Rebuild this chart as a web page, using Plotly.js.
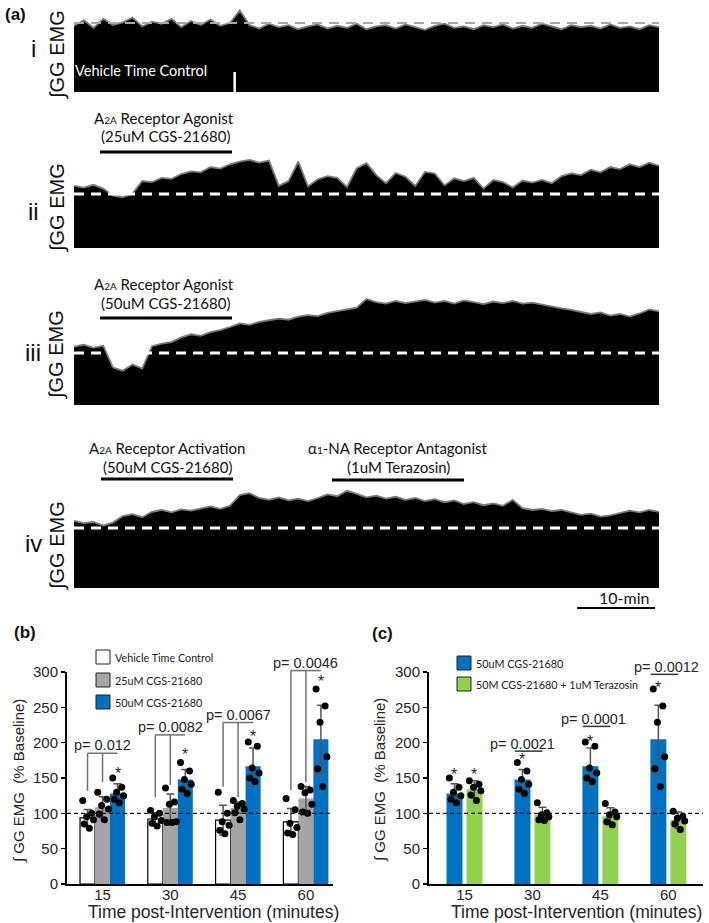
<!DOCTYPE html>
<html><head><meta charset="utf-8">
<script src="https://cdn.plot.ly/plotly-3.0.1.min.js"></script>
<style>html,body{margin:0;padding:0;background:#fff;}#chart{width:709px;height:923px;}</style>
</head><body><div id="chart"></div>
<script>
// ---------------- DATA ----------------
const recordMinutes = 75;
const emgI   = [96,104,93,106,97,101,108,95,102,99,106,94,103,97,105,96,100,118,97,92,99,94,97,91,95,98,92,96,93,99,91,95,97,92,98,94,90,96,99,93,95,91,97,94,98,92,96,93,99,95,91,97,94,96,92,98,93,95,91,97,94];
const emgII  = [115,112,117,110,97,94,101,124,122,130,128,137,142,140,150,147,155,160,163,158,162,115,124,160,114,127,133,130,113,148,157,135,120,139,132,115,141,138,116,129,124,130,110,126,122,112,125,121,126,120,133,138,135,145,140,150,146,155,150,158,152];
const emgIII = [112,116,110,114,72,66,78,70,113,118,121,130,136,133,140,144,150,157,154,160,163,166,164,170,173,171,177,180,184,187,204,198,195,200,196,199,202,197,200,195,201,198,194,199,196,200,195,197,193,190,186,183,179,175,178,172,175,170,176,184,180];
const emgIV  = [112,108,110,104,109,120,123,118,127,130,126,131,129,133,136,132,137,155,158,150,147,151,146,149,145,150,156,153,162,157,151,154,149,152,147,150,145,148,143,146,140,143,138,141,137,147,133,130,132,128,130,126,122,124,119,121,125,129,126,130,127];
const dropoutMin = [20.6];      // signal dropout in trace i
const dropoutDepth = [29];
const scaleBarMin = 10;

// Bar charts
const timeCats = ['15','30','45','60'];
const vehMean  = [93.5, 92, 90.5, 88];
const vehSD    = [12, 9, 21, 19];
const cgs25Mean = [108.5, 107.5, 108, 121];
const cgs25SD   = [15, 20, 8, 17];
const cgs50Mean = [128, 148, 166.5, 205];
const cgs50SD   = [14, 14, 26, 48];
const teraMean  = [134, 98.5, 96, 90.5];
const teraSD    = [12, 10, 12, 11.5];

const vehPts   = [[118,100,95,91,85,79],[104,100,95,90,86,82],[130,100,88,83,76,71],[121,105,86,80,72,70]];
const cgs25Pts = [[130,120,111,106,99,91],[136,116,113,88,87,87],[118,114,110,106,101,91],[138,133,129,113,102,100]];
const cgs50Pts = [[150,137,130,125,120,115],[172,160,148,141,134,128],[201,195,164,157,150,145],[276,252,229,180,163,138]];
const teraPts  = [[146,141,137,132,126,118],[115,101,98,95,91,90],[114,102,98,95,88,84],[103,96,93,89,85,77]];

const pValsB = ['0.012','0.0082','0.0067','0.0046'];
const pValsC = ['0.0021','0.0001','0.0012'];   // at 30, 45, 60 min

// ---------------- LAYOUT HELPERS ----------------
const W = 709, H = 923;
const fx = px => px / W;
const fy = py => 1 - py / H;
const ARIAL = 'Liberation Sans, Arial, sans-serif';
const CAL = 'Lato, Open Sans, sans-serif';
const TXT = '#262626';

const traces = [];
const shapes = [];
const annotations = [];
const layout = {
  width: W, height: H, margin: {l:0, r:0, t:0, b:0},
  paper_bgcolor: '#fff', plot_bgcolor: 'rgba(0,0,0,0)',
  showlegend: false, barmode: 'overlay',
  font: {family: ARIAL, color: TXT}
};
function ann(text, px, py, o) {
  o = o || {};
  return Object.assign({xref:'paper', yref:'paper', x: fx(px), y: fy(py), text: text,
    showarrow: false, xanchor: 'center', yanchor: 'middle',
    font: {family: ARIAL, size: 14, color: TXT}}, o);
}

// ---------------- PANEL (a) ----------------
const emgSets = [emgI, emgII, emgIII, emgIV];
const emgGeom = [
  {bottom: 92,  base: 23,  top: 6},
  {bottom: 248, base: 194, top: 140},
  {bottom: 405, base: 353, top: 285},
  {bottom: 588, base: 528, top: 470}
];
const emgX0 = 74, emgX1 = 659;
emgSets.forEach((vals, k) => {
  const g = emgGeom[k];
  const ax = k === 0 ? '' : String(k + 1);
  const t = vals.map((_, i) => i * recordMinutes / (vals.length - 1));
  traces.push({type:'scatter', mode:'lines', x: t, y: vals, xaxis:'x'+ax, yaxis:'y'+ax,
    fill:'tozeroy', fillcolor:'#000', line:{color:'#7a7a7a', width:1.8}, hoverinfo:'skip'});
  layout['xaxis'+ax] = {domain:[fx(emgX0), fx(emgX1)], range:[0, recordMinutes], visible:false, fixedrange:true};
  layout['yaxis'+ax] = {domain:[fy(g.bottom), fy(g.top)], range:[0, 100*(g.bottom-g.top)/(g.bottom-g.base)], visible:false, fixedrange:true};
  shapes.push({type:'line', xref:'x'+ax, yref:'y'+ax, x0:0, x1:recordMinutes, y0:100, y1:100,
    line:{color: k===0 ? '#a8a8a8' : '#fff', width: k===0 ? 2 : 3, dash:'10px,7px'}});
});
// dropout in trace i
traces.push({type:'scatter', mode:'lines', x:[dropoutMin[0], dropoutMin[0]], y:[0, dropoutDepth[0]],
  xaxis:'x', yaxis:'y', line:{color:'#fff', width:2.5}, hoverinfo:'skip'});
// scale bar (ends half a minute before the end of the record)
shapes.push({type:'line', xref:'x4', yref:'paper', x0: recordMinutes-0.5-scaleBarMin, x1: recordMinutes-0.5,
  y0: fy(608), y1: fy(608), line:{color:'#000', width:2}});
annotations.push(ann('10-min', 624, 597, {font:{family:CAL, size:16, color:'#111'}}));

annotations.push(ann('<b>(a)</b>', 3, 15, {xanchor:'left', font:{family:ARIAL, size:17, color:'#111'}}));
[['i',48],['ii',212],['iii',353],['iv',543]].forEach(r =>
  annotations.push(ann(r[0], 33, r[1], {font:{family:ARIAL, size:24, color:'#111'}})));
[55, 208, 355, 546].forEach(py =>
  annotations.push(ann('∫GG EMG', 57, py, {textangle:-90, font:{family:ARIAL, size:20, color:'#111'}})));
annotations.push(ann('Vehicle Time Control', 141, 70, {font:{family:CAL, size:14.5, color:'#fff'}}));

const small = s => '<span style="font-size:10px">' + s + '</span>';
const drugFont = {family: CAL, size: 15, color: '#111'};
// ii
annotations.push(ann('A' + small('2A') + ' Receptor Agonist', 164, 118, {font: drugFont}));
annotations.push(ann('(25uM CGS-21680)', 165, 136, {font: drugFont}));
// iii
annotations.push(ann('A' + small('2A') + ' Receptor Agonist', 164, 284, {font: drugFont}));
annotations.push(ann('(50uM CGS-21680)', 165, 303, {font: drugFont}));
// iv
annotations.push(ann('A' + small('2A') + ' Receptor Activation', 167, 448, {font: drugFont}));
annotations.push(ann('(50uM CGS-21680)', 167, 467, {font: drugFont}));
annotations.push(ann('α' + small('1') + '-NA Receptor Antagonist', 398, 448, {font: drugFont}));
annotations.push(ann('(1uM Terazosin)', 398, 467, {font: drugFont}));
[[100,232,152],[100,232,318],[101,233,479],[332,464,480]].forEach(b =>
  shapes.push({type:'line', xref:'paper', yref:'paper', x0:fx(b[0]), x1:fx(b[1]), y0:fy(b[2]), y1:fy(b[2]), line:{color:'#000', width:3}}));

// ---------------- BAR CHART HELPERS ----------------
const jitter = [-0.32, 0.28, -0.06, 0.4, -0.22, 0.12];
const catPos = timeCats.map((_, i) => i);
const Y0PX = 884, Y300PX = 672;
const vPx = v => Y0PX - v * (Y0PX - Y300PX) / 300;
function barAxes(ax, g) {
  layout['xaxis'+ax] = {domain:[fx(g.x0), fx(g.x1)], range:[g.r0, g.r1], tickvals: catPos, ticktext: timeCats,
    ticks:'', ticklabelstandoff:-4, showline:true, linecolor:'#000', linewidth:2, showgrid:false, zeroline:false,
    tickfont:{family:ARIAL, size:15, color:TXT}, anchor:'y'+ax, fixedrange:true};
  layout['yaxis'+ax] = {domain:[fy(Y0PX), fy(Y300PX)], range:[0, 300], tickvals:[0,50,100,150,200,250,300],
    ticks:'outside', ticklen:4, tickwidth:1.5, tickcolor:'#000', showline:true, linecolor:'#000', linewidth:2,
    showgrid:false, zeroline:false, tickfont:{family:ARIAL, size:15, color:TXT}, anchor:'x'+ax, fixedrange:true};
  shapes.push({type:'line', xref:'x'+ax+' domain', yref:'y'+ax, x0:0, x1:1, y0:100, y1:100,
    line:{color:'#111', width:1.2, dash:'4px,3px'}});
  g.px = x => fx(g.x0 + (x - g.r0) / (g.r1 - g.r0) * (g.x1 - g.x0));
  g.py = v => fy(vPx(v));
}
function addGroup(ax, means, sds, pts, color, lineSpec, center, width) {
  traces.push({type:'bar', x: catPos, y: means, width: width, offset: center - width/2,
    xaxis:'x'+ax, yaxis:'y'+ax, marker:{color: color, line: lineSpec},
    error_y:{type:'data', array: sds, visible:true, color:'#555', thickness:1.5, width:4}, hoverinfo:'skip'});
  const xs = [], ys = [];
  pts.forEach((arr, i) => arr.forEach((v, j) => { xs.push(i + center + jitter[j % jitter.length]*width); ys.push(v); }));
  traces.push({type:'scatter', mode:'markers', x: xs, y: ys, xaxis:'x'+ax, yaxis:'y'+ax,
    marker:{color:'#000', size:7}, hoverinfo:'skip', cliponaxis:false});
}
// asterisk: glyph centred on value v (box top placed just above the glyph)
function star(g, x, v) {
  annotations.push({xref:'paper', yref:'paper', x:g.px(x), y:g.py(v), text:'*', showarrow:false, yshift:5,
    xanchor:'center', yanchor:'top', borderpad:0, font:{family:ARIAL, size:16, color:TXT}});
}
function hline(g, xa, xb, v, st) {
  shapes.push({type:'line', xref:'paper', yref:'paper', x0:g.px(xa), x1:g.px(xb), y0:g.py(v), y1:g.py(v), line:st});
}
function vline(g, x, va, vb, st) {
  shapes.push({type:'line', xref:'paper', yref:'paper', x0:g.px(x), x1:g.px(x), y0:g.py(va), y1:g.py(vb), line:st});
}
function legendRow(px, py, color, label) {
  shapes.push({type:'rect', xref:'paper', yref:'paper', x0:fx(px), x1:fx(px+14), y0:fy(py+7), y1:fy(py-7),
    fillcolor:color, line:{color:'#222', width:1}});
  annotations.push(ann(label, px+17, py, {xanchor:'left', font:{family:CAL, size:10.8, color:'#222'}}));
}

// ---------------- PANEL (b) ----------------
const wB = 0.2213;
const gB = {x0:67, x1:333, r0:-0.524, r1:3.40};
barAxes('5', gB);
addGroup('5', vehMean, vehSD, vehPts, '#ffffff', {color:'#000', width:1.2}, -wB, wB);
addGroup('5', cgs25Mean, cgs25SD, cgs25Pts, '#a5a5a5', {width:0}, 0, wB);
addGroup('5', cgs50Mean, cgs50SD, cgs50Pts, '#0070c0', {width:0}, wB, wB);
const brB = [{top:185, left:132, mid:144.5}, {top:211, left:123, mid:140}, {top:228.5, left:137.5, mid:123}, {top:302, left:133, mid:144.5}];
brB.forEach((b, i) => {
  const st = {color:'#707070', width:1.5};
  hline(gB, i-wB, i+wB, b.top, st);
  vline(gB, i-wB, b.top, b.left, st);
  vline(gB, i, b.top, b.mid, st);
  annotations.push({xref:'paper', yref:'paper', x:gB.px(i), y:gB.py(b.top), xanchor:'center', yanchor:'bottom', yshift:-2,
    showarrow:false, text:'p= ' + pValsB[i], font:{family:ARIAL, size:14.5, color:TXT}});
});
[[0,162.5],[1,189],[2,215],[3,292.5]].forEach(s => star(gB, s[0]+wB, s[1]));
legendRow(96, 657, '#ffffff', 'Vehicle Time Control');
legendRow(96, 680, '#a5a5a5', '25uM CGS-21680');
legendRow(96, 702, '#0070c0', '50uM CGS-21680');
annotations.push(ann('<b>(b)</b>', 12, 632, {xanchor:'left', font:{family:ARIAL, size:17, color:'#111'}}));
annotations.push(ann('∫ GG EMG&nbsp;&nbsp;(% Baseline)', 19, 781, {textangle:-90, font:{family:ARIAL, size:15, color:TXT}}));
annotations.push(ann('Time post-Intervention (minutes)', 214, 912, {borderpad:0, font:{family:ARIAL, size:17.5, color:TXT}}));

// ---------------- PANEL (c) ----------------
const wC = 0.235, cC = 0.147;
const gC = {x0:429, x1:703, r0:-0.522, r1:3.51};
barAxes('6', gC);
addGroup('6', cgs50Mean, cgs50SD, cgs50Pts, '#0070c0', {width:0}, -cC, wC);
addGroup('6', teraMean, teraSD, teraPts, '#92d050', {width:0}, cC, wC);
const brC = [{i:1, top:188, tx:-0.14}, {i:2, top:223, tx:-0.106}, {i:3, top:296.7, tx:-0.03}];
brC.forEach((b, k) => {
  hline(gC, b.i-0.26, b.i+cC, b.top, {color:'#333', width:1.5});
  annotations.push({xref:'paper', yref:'paper', x:gC.px(b.i+b.tx), y:gC.py(b.top), xanchor:'center', yanchor:'bottom', yshift:-2,
    borderpad:0, showarrow:false, text:'p= ' + pValsC[k], font:{family:ARIAL, size:14.5, color:TXT}});
});
[[0-cC,161],[0+cC,161],[1-cC,183],[2-cC,208],[3-cC,284.5]].forEach(s => star(gC, s[0], s[1]));
legendRow(457, 663, '#0070c0', '50uM CGS-21680');
legendRow(457, 684, '#92d050', '50M CGS-21680 + 1uM Terazosin');
annotations.push(ann('<b>(c)</b>', 370, 633, {xanchor:'left', font:{family:ARIAL, size:17, color:'#111'}}));
annotations.push(ann('∫ GG EMG&nbsp;&nbsp;(% Baseline)', 380, 780, {textangle:-90, font:{family:ARIAL, size:15, color:TXT}}));
annotations.push(ann('Time post-Intervention (minutes)', 576, 912, {borderpad:0, font:{family:ARIAL, size:17.5, color:TXT}}));

layout.shapes = shapes;
layout.annotations = annotations;
Plotly.newPlot('chart', traces, layout, {staticPlot:true, displayModeBar:false});
</script></body></html>
